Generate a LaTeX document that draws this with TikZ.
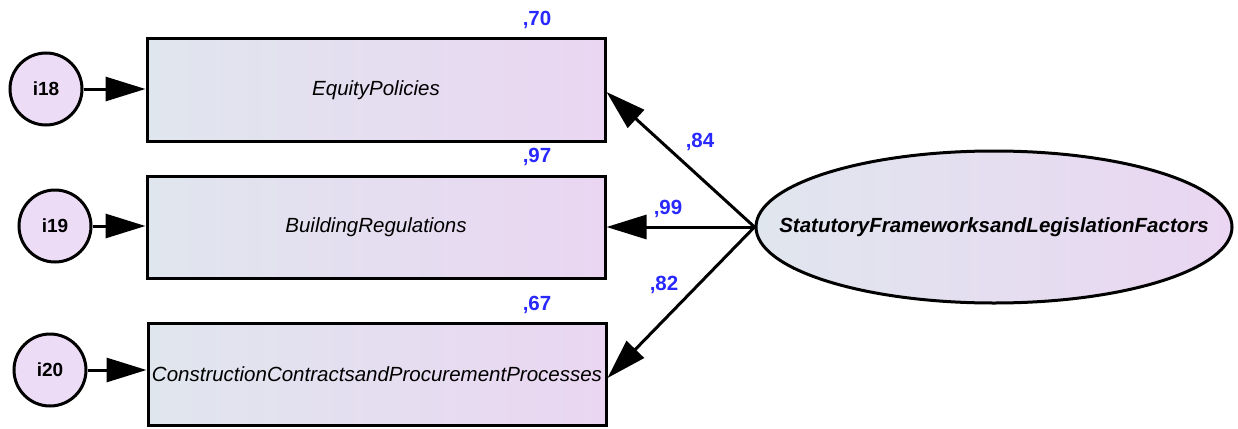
\documentclass[tikz,border=0pt]{standalone}
\usepackage{fontspec}
\setmainfont{Liberation Sans}
\usetikzlibrary{shapes.geometric,arrows.meta}
\definecolor{shadeL}{RGB}{224,230,238}
\definecolor{shadeR}{RGB}{234,214,242}
\definecolor{errfill}{RGB}{236,220,246}
\definecolor{coefblue}{RGB}{40,40,255}
\tikzset{
  obsbox/.style={rectangle, draw=black, line width=3pt, left color=shadeL, right color=shadeR,
    minimum width=458pt, minimum height=102pt, inner sep=0pt,
    font=\fontsize{20.5}{23}\selectfont\itshape},
  errnode/.style={circle, draw=black, line width=3pt, fill=errfill, minimum size=72pt, inner sep=0pt,
    font=\fontsize{19}{22}\selectfont\bfseries},
  latent/.style={ellipse, draw=black, line width=3pt, left color=shadeL, right color=shadeR,
    minimum width=476pt, minimum height=152pt, inner sep=0pt,
    font=\fontsize{20.5}{23}\selectfont\bfseries\itshape},
  path/.style={line width=3pt, -{Triangle[length=40pt,width=24pt]}},
  coef/.style={text=coefblue, font=\fontsize{20.5}{23}\selectfont\bfseries, inner sep=0pt}
}
\begin{document}
\begin{tikzpicture}[x=1pt,y=-1pt]
  \useasboundingbox (0,0) rectangle (1238,428);
  % observed indicators
  \node[obsbox] (b1) at (376,90) {EquityPolicies};
  \node[obsbox] (b2) at (376,227) {BuildingRegulations};
  \node[obsbox] (b3) at (377,374) {ConstructionContractsandProcurementProcesses};
  % error terms
  \node[errnode] (e1) at (46,89) {i18};
  \node[errnode] (e2) at (55,226) {i19};
  \node[errnode] (e3) at (50,370) {i20};
  % latent factor (label set in a zero-width box so the ellipse keeps its size)
  \node[latent] (f) at (994,227) {\makebox[0pt]{StatutoryFrameworksandLegislationFactors}};
  % error paths
  \draw[path] (e1) -- (b1.west |- e1);
  \draw[path] (e2) -- (b2.west |- e2);
  \draw[path] (e3) -- (b3.west |- e3);
  % loadings
  \draw[path] (f.west) -- ([yshift=-2pt]b1.east);
  \draw[path] (f.west) -- (b2.east);
  \draw[path] (f.west) -- ([yshift=-4pt]b3.east);
  % squared multiple correlations
  \node[coef] (r1) at (537,20) {,70};
  \node[coef] (r2) at (537,157) {,97};
  \node[coef] (r3) at (537,305) {,67};
  % standardized loadings
  \node[coef] (l1) at (700,142) {,84};
  \node[coef] (l2) at (668,209) {,99};
  \node[coef] (l3) at (664,285) {,82};
\end{tikzpicture}
\end{document}
